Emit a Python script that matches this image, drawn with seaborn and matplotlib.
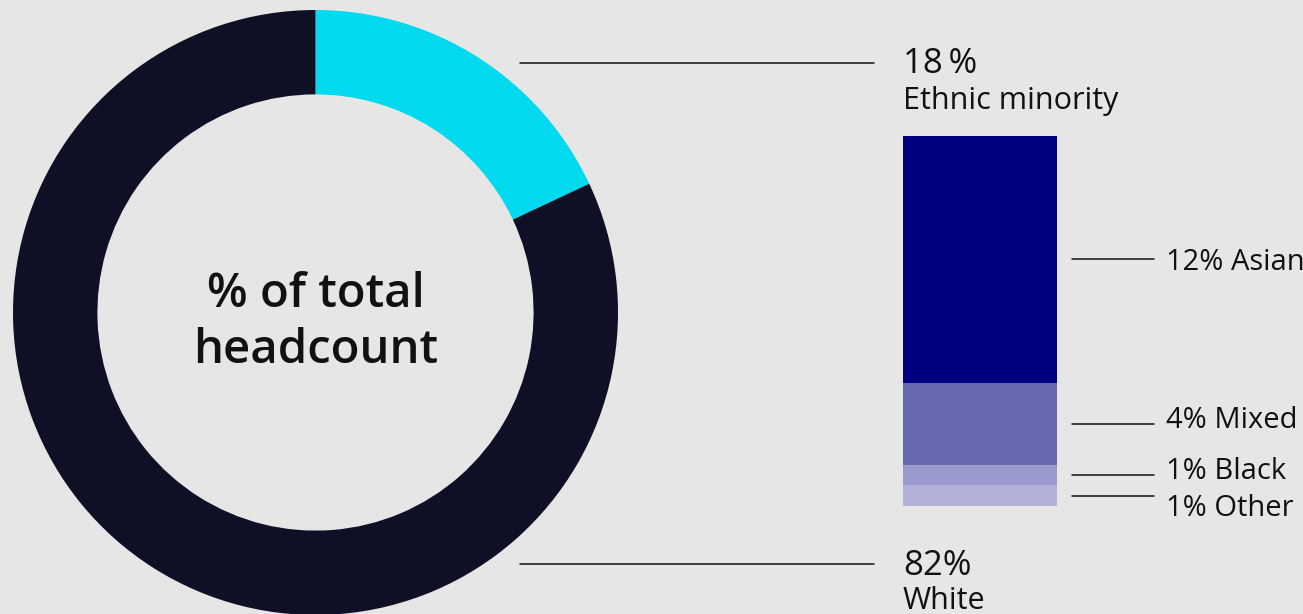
import matplotlib
matplotlib.use("Agg")
import matplotlib.pyplot as plt
import matplotlib.transforms as mtransforms
import seaborn as sns
import numpy as np

# Headcount split shown in the donut
donut_labels = ["Ethnic minority", "White"]
donut_values = [18, 82]
donut_value_text = ["18\u2009%", "82%"]

# Breakdown of the ethnic-minority share, top to bottom
group_names = ["Asian", "Mixed", "Black", "Other"]
group_values = [12, 4, 1, 1]

BG = "#E6E6E6"
DONUT_COLORS = ["#00D9EE", "#0F1026"]
GROUP_COLORS = ["#000080", "#6868B0", "#9A9ACC", "#B0B0D8"]
INK = "#111111"
FONT = ["Open Sans", "DejaVu Sans"]

sns.set_theme(style="white")
plt.rcParams["font.family"] = FONT

W, H = 1303, 614
fig = plt.figure(figsize=(W / 100, H / 100), dpi=100, facecolor=BG)

# ---- donut -------------------------------------------------------------
cx, cy, r_out = 315.5, 312.5, 302.5
ax_d = fig.add_axes([(cx - r_out) / W, (H - cy - r_out) / H, 2 * r_out / W, 2 * r_out / H])
ax_d.set_facecolor(BG)
ax_d.pie(donut_values, radius=1, startangle=90, counterclock=False,
         colors=DONUT_COLORS, wedgeprops=dict(width=0.279, linewidth=0))
ax_d.set_xlim(-1, 1)
ax_d.set_ylim(-1, 1)
ax_d.axis("off")
ax_d.text(0, 0.018, "% of total", ha="center", va="baseline", fontsize=34,
          fontweight="semibold", color=INK)
ax_d.text(0, -0.167, "headcount", ha="center", va="baseline", fontsize=34,
          fontweight="semibold", color=INK)

# ---- stacked bar of the ethnic-minority groups -------------------------
bx0, bx1, by0, by1 = 903, 1057, 136, 506
ax_b = fig.add_axes([bx0 / W, (H - by1) / H, (bx1 - bx0) / W, (by1 - by0) / H])
ax_b.set_facecolor(BG)

# cumulative totals from the bottom segment upwards; draw tallest first
order_bottom_up = list(range(len(group_values)))[::-1]
cum = np.cumsum([group_values[i] for i in order_bottom_up])
tops = {i: c for i, c in zip(order_bottom_up, cum)}
for i in range(len(group_values)):
    sns.barplot(x=["Ethnic minority"], y=[tops[i]], color=GROUP_COLORS[i],
                saturation=1, width=1, linewidth=0, ax=ax_b)
ax_b.set_xlim(-0.5, 0.5)
ax_b.set_ylim(0, sum(group_values))
ax_b.axis("off")

blend = mtransforms.blended_transform_factory(ax_b.transAxes, ax_b.transData)
line_x0 = (1072 - bx0) / (bx1 - bx0)
line_x1 = (1154 - bx0) / (bx1 - bx0)
text_x = (1166 - bx0) / (bx1 - bx0)
label_nudge = [0, 5, 5, -7]  # points, to keep small neighbouring labels apart
for i, (name, val) in enumerate(zip(group_names, group_values)):
    mid = tops[i] - val / 2
    ax_b.plot([line_x0, line_x1], [mid, mid], color=INK, lw=1.1,
              transform=blend, clip_on=False)
    ax_b.annotate(f"{val}% {name}", xy=(text_x, mid), xycoords=blend,
                  xytext=(0, label_nudge[i]), textcoords="offset points",
                  ha="left", va="center_baseline", fontsize=21, color=INK,
                  annotation_clip=False)

# ---- leader lines and labels for the donut -----------------------------
ax_o = fig.add_axes([0, 0, 1, 1], facecolor="none")
ax_o.set_xlim(0, W)
ax_o.set_ylim(H, 0)
ax_o.axis("off")
for y_line, y_num, y_name, num, name in [
    (63, 73, 109, donut_value_text[0], donut_labels[0]),
    (564, 575, 609, donut_value_text[1], donut_labels[1]),
]:
    ax_o.plot([520, 874], [y_line, y_line], color=INK, lw=1.1)
    ax_o.text(903, y_num, num, ha="left", va="baseline", fontsize=25, color=INK)
    ax_o.text(903, y_name, name, ha="left", va="baseline", fontsize=22, color=INK)

fig.savefig("out.png", dpi=100, facecolor=BG)
